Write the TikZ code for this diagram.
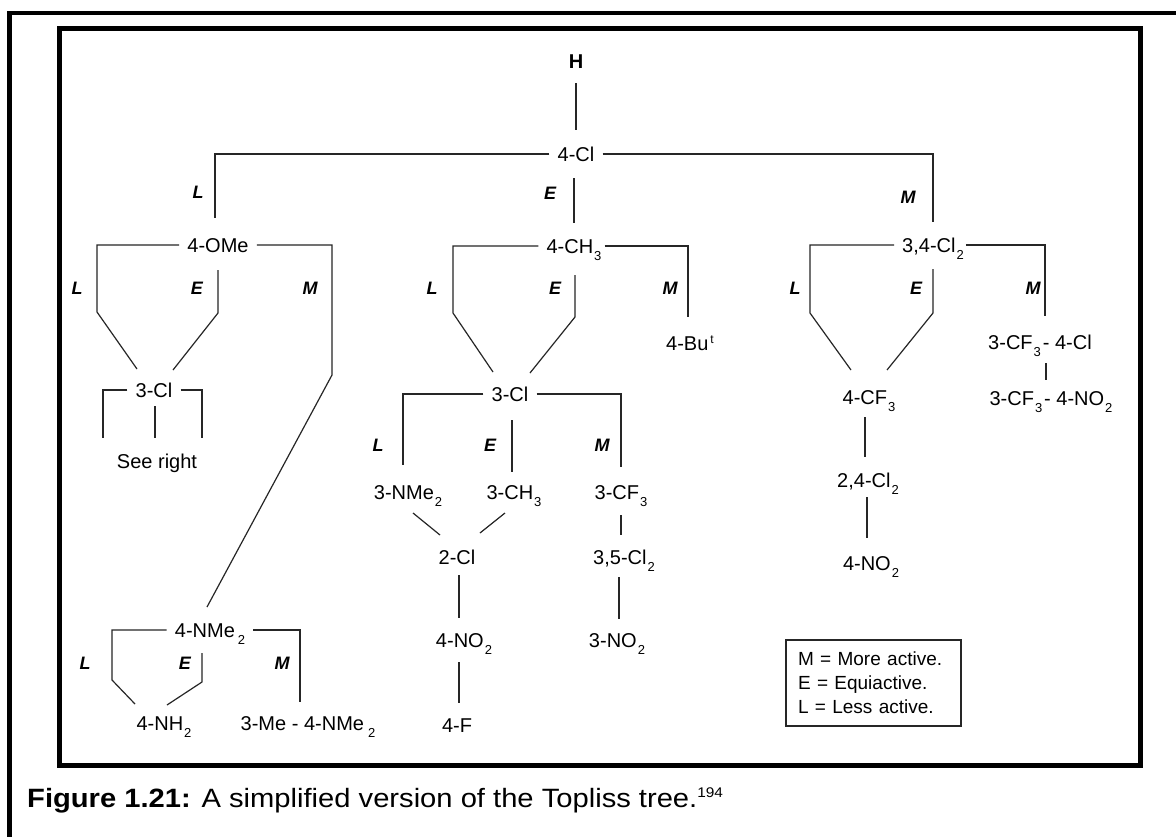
\documentclass[tikz,border=0pt]{standalone}
\usepackage{fontspec}
\setmainfont{Liberation Sans}
\newcommand\sbs[1]{\kern1pt\raisebox{-7pt}{\fontsize{13}{13}\selectfont #1}}
\newcommand\sps[1]{\kern2pt\raisebox{7pt}{\fontsize{12}{12}\selectfont #1}}
\begin{document}
\begin{tikzpicture}[x=1pt,y=-1pt,
  lbl/.style={font=\fontsize{20}{20}\selectfont, inner sep=0pt, text height=14pt, text depth=0pt},
  hub/.style={lbl, inner xsep=8pt},
  act/.style={font=\fontsize{18}{18}\selectfont\bfseries\itshape, inner sep=0pt},
  link/.style={draw=black!85, line width=1.2pt},
  frame/.style={draw=black, line width=4.2pt},
  keybox/.style={draw=black!85, line width=1.3pt, align=left, text width=151pt, inner xsep=12pt,
     minimum height=86pt, font=\fontsize{19}{24}\selectfont},
  caption/.style={anchor=base west, inner sep=0pt, font=\fontsize{26.5}{27}\selectfont}]
\useasboundingbox (0,0) rectangle (1176,836);
\fill[white] (0,0) rectangle (1176,836);
% frames
\draw[frame] (9.5,840) -- (9.5,13) -- (1180,13);
\draw[frame] (59.5,28.5) rectangle (1140.5,765.5);

% ---------- nodes ----------
\node[lbl, font=\fontsize{20}{20}\selectfont\bfseries] (H) at (576,61) {H};
\node[hub] (cl4) at (576,154) {4-Cl};
\node[hub] (ome) at (218,245) {4-OMe};
\node[hub] (ch3) at (574,246) {4-CH\sbs{3}};
\node[hub] (cl34) at (933,245) {3,4-Cl\sbs{2}};
\node[hub] (cl3a) at (154,390) {3-Cl};
\node[lbl] (seeright) at (157,461) {See right};
\node[hub] (nme2) at (210,630) {4-NMe\kern2pt\sbs{2}};
\node[lbl] (nh2) at (164,723) {4-NH\sbs{2}};
\node[lbl] (menme) at (308,723) {3-Me - 4-NMe\kern3pt\sbs{2}};
\node[hub] (cl3b) at (510,394) {3-Cl};
\node[lbl] (but) at (690,343) {4-Bu\sps{t}};
\node[lbl] (nme2b) at (408,492) {3-NMe\sbs{2}};
\node[lbl] (ch3b) at (514,492) {3-CH\sbs{3}};
\node[lbl] (cf3) at (621,492) {3-CF\sbs{3}};
\node[lbl] (cl2) at (457,557) {2-Cl};
\node[lbl] (no2a) at (464,640) {4-NO\sbs{2}};
\node[lbl] (f4) at (457,725) {4-F};
\node[lbl] (cl35) at (624,557) {3,5-Cl\sbs{2}};
\node[lbl] (no2b) at (617,640) {3-NO\sbs{2}};
\node[lbl] (cf3cl) at (1040,342) {3-CF\sbs{3}\kern2pt- 4-Cl};
\node[lbl] (cf3no2) at (1051,398) {3-CF\sbs{3}\kern2pt- 4-NO\sbs{2}};
\node[lbl] (cf4) at (869,397) {4-CF\sbs{3}};
\node[lbl] (cl24) at (868,480) {2,4-Cl\sbs{2}};
\node[lbl] (no2c) at (871,563) {4-NO\sbs{2}};

% activity labels
\node[act] (t-L) at (198,192) {L};
\node[act] (t-E) at (550,193) {E};
\node[act] (t-M) at (908,197) {M};
\node[act] (o-L) at (77,288) {L};
\node[act] (o-E) at (197,288) {E};
\node[act] (o-M) at (310,288) {M};
\node[act] (c-L) at (432,288) {L};
\node[act] (c-E) at (555,288) {E};
\node[act] (c-M) at (670,288) {M};
\node[act] (r-L) at (795,288) {L};
\node[act] (r-E) at (916,288) {E};
\node[act] (r-M) at (1033,288) {M};
\node[act] (b-L) at (378,445) {L};
\node[act] (b-E) at (490,445) {E};
\node[act] (b-M) at (602,445) {M};
\node[act] (n-L) at (85,663) {L};
\node[act] (n-E) at (185,663) {E};
\node[act] (n-M) at (282,663) {M};

% legend
\node[keybox] (key) at (873.5,683) {M = More active.\\ E = Equiactive.\\ L = Less active.};

% caption
\node[caption] (cap) at (27,807) {\scalebox{1.1}[1]{\textbf{Figure 1.21:} A simplified version of the Topliss tree.\raisebox{10pt}{\fontsize{14}{14}\selectfont 194}}};

% ---------- coordinates ----------
\coordinate (h1) at (576,83);  \coordinate (h2) at (576,130);
\coordinate (tL) at (215,218);  \coordinate (tM) at (933,222);
\coordinate (tE1) at (574,178); \coordinate (tE2) at (574,223);
\coordinate (oL1) at (97,312);  \coordinate (oL2) at (137,369);
\coordinate (oE0) at (218,270); \coordinate (oE1) at (218,313); \coordinate (oE2) at (173,370);
\coordinate (oM1) at (332,375); \coordinate (oM2) at (207,607);
\coordinate (aL) at (103,438);  \coordinate (aM) at (202,438);
\coordinate (aE1) at (155,406); \coordinate (aE2) at (155,438);
\coordinate (nL1) at (112,680); \coordinate (nL2) at (135,704);
\coordinate (nE0) at (202,653); \coordinate (nE1) at (202,682); \coordinate (nE2) at (167,705);
\coordinate (nM1) at (300,702);
\coordinate (cL1) at (453,313); \coordinate (cL2) at (493,372);
\coordinate (cE0) at (575,275); \coordinate (cE1) at (575,317); \coordinate (cE2) at (530,373);
\coordinate (cM1) at (688,317);
\coordinate (bL) at (403,465);  \coordinate (bM) at (621,467);
\coordinate (bE1) at (512,420); \coordinate (bE2) at (512,472);
\coordinate (d1) at (413,513);  \coordinate (d2) at (440,535);
\coordinate (d3) at (505,513);  \coordinate (d4) at (480,533);
\coordinate (e1) at (621,515);  \coordinate (e2) at (621,535);
\coordinate (f1) at (459,575);  \coordinate (f2) at (459,618);
\coordinate (f3) at (459,662);  \coordinate (f4e) at (459,703);
\coordinate (g1) at (619,577);  \coordinate (g2) at (619,619);
\coordinate (rL1) at (810,313); \coordinate (rL2) at (851,370);
\coordinate (rE0) at (933,269); \coordinate (rE1) at (933,313); \coordinate (rE2) at (887,370);
\coordinate (rM1) at (1045,316);
\coordinate (k1) at (1046,363); \coordinate (k2) at (1046,380);
\coordinate (m1) at (865,417);  \coordinate (m2) at (865,457);
\coordinate (m3) at (867,497);  \coordinate (m4) at (867,538);

% ---------- connectors ----------
\draw[link] (h1) -- (h2);
\draw[link] (cl4.west) -| (tL);
\draw[link] (cl4.east) -| (tM);
\draw[link] (tE1) -- (tE2);
% 4-OMe
\draw[link] (ome.west) -| (oL1) -- (oL2);
\draw[link] (oE0) -- (oE1) -- (oE2);
\draw[link] (ome.east) -| (oM1) -- (oM2);
% 3-Cl (left)
\draw[link] (cl3a.west) -| (aL);
\draw[link] (cl3a.east) -| (aM);
\draw[link] (aE1) -- (aE2);
% 4-NMe2
\draw[link] (nme2.west) -| (nL1) -- (nL2);
\draw[link] (nE0) -- (nE1) -- (nE2);
\draw[link] (nme2.east) -| (nM1);
% 4-CH3
\draw[link] (ch3.west) -| (cL1) -- (cL2);
\draw[link] (cE0) -- (cE1) -- (cE2);
\draw[link] ([xshift=-5pt]ch3.east) -| (cM1);
% 3-Cl (middle)
\draw[link] (cl3b.west) -| (bL);
\draw[link] (cl3b.east) -| (bM);
\draw[link] (bE1) -- (bE2);
\draw[link] (d1) -- (d2);
\draw[link] (d3) -- (d4);
\draw[link] (e1) -- (e2);
\draw[link] (f1) -- (f2);
\draw[link] (f3) -- (f4e);
\draw[link] (g1) -- (g2);
% 3,4-Cl2
\draw[link] (cl34.west) -| (rL1) -- (rL2);
\draw[link] (rE0) -- (rE1) -- (rE2);
\draw[link] ([xshift=-6pt]cl34.east) -| (rM1);
\draw[link] (k1) -- (k2);
\draw[link] (m1) -- (m2);
\draw[link] (m3) -- (m4);
\end{tikzpicture}
\end{document}
